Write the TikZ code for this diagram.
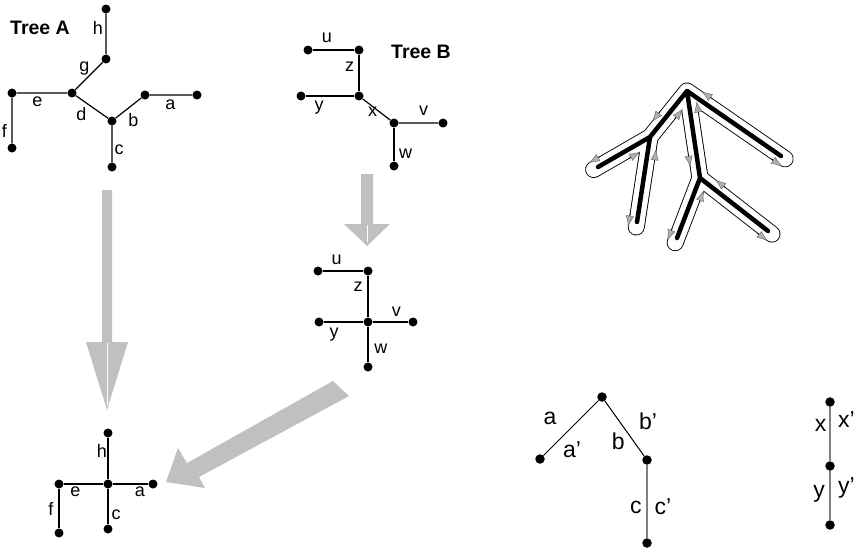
\documentclass[tikz,border=0pt]{standalone}
\usepackage{fontspec}
\setmainfont{Liberation Sans}
\usetikzlibrary{calc,arrows.meta}
\definecolor{arrgray}{RGB}{192,192,192}
\definecolor{tipgray}{RGB}{175,175,175}
\definecolor{edgegray}{RGB}{128,128,128}
\newcommand\lblfont{\fontsize{18}{20}\selectfont}
\newcommand\bigfont{\fontsize{23}{26}\selectfont}
\newcommand\ttlfont{\fontsize{19.5}{22}\selectfont\bfseries}
\newcommand\tourdn[3]{%
  \coordinate (ta) at ($(#1)!#3!(#2)$);
  \coordinate (tb) at ($(ta)!13pt!(#1)$);
  \draw[tourarr] ($(tb)!8pt!90:(#1)$) -- ($(ta)!8pt!90:(#1)$);}
\newcommand\tourup[3]{%
  \coordinate (ta) at ($(#1)!#3!(#2)$);
  \coordinate (tb) at ($(ta)!13pt!(#1)$);
  \draw[tourarr] ($(ta)!8pt!-90:(#1)$) -- ($(tb)!8pt!-90:(#1)$);}
\begin{document}
\begin{tikzpicture}[x=1pt,y=-1pt,
  dot/.style={circle,fill=black,inner sep=0pt,minimum size=9pt},
  bdot/.style={circle,fill=black,inner sep=0pt,minimum size=9.5pt},
  edge/.style={line width=1.2pt,black},
  gedge/.style={line width=2pt,edgegray},
  lbl/.style={inner sep=0pt,outer sep=0pt,font=\lblfont},
  blbl/.style={inner sep=0pt,outer sep=0pt,font=\bigfont},
  ttl/.style={inner sep=0pt,outer sep=0pt,font=\ttlfont},
  tourarr/.style={draw=black,line width=0.6pt,
    -{Latex[length=11pt,width=8pt,fill=tipgray,color=tipgray!55!black,line width=0.4pt]}},
  bigarrow/.style={fill=arrgray}
]
\useasboundingbox (0,0) rectangle (860,552);

% ---------------- Tree A ----------------
\node[dot] (Ah) at (106,9) {};
\node[dot] (Ag) at (106,59) {};
\node[dot] (Ad) at (72,93) {};
\node[dot] (Ae) at (12,93) {};
\node[dot] (Af) at (12,148) {};
\node[dot] (Ab) at (112,121) {};
\node[dot] (Ac) at (112,167) {};
\node[dot] (Aa1) at (145,95) {};
\node[dot] (Aa2) at (197,95) {};
\draw[edge] (Ah) -- (Ag) -- (Ad) -- (Ae) -- (Af);
\draw[edge] (Ad) -- (Ab) -- (Ac);
\draw[edge] (Ab) -- (Aa1) -- (Aa2);
\node[ttl] (tA) at (40,28) {Tree A};
\node[lbl] (lAh) at (98,27.5) {h};
\node[lbl] (lAg) at (84.5,68.5) {g};
\node[lbl] (lAe) at (37.5,101.7) {e};
\node[lbl] (lAd) at (81.3,114) {d};
\node[lbl] (lAb) at (133.5,120) {b};
\node[lbl] (lAa) at (170.5,104.7) {a};
\node[lbl] (lAf) at (4.5,130.5) {f};
\node[lbl] (lAc) at (119,150) {c};

% ---------------- Tree B ----------------
\node[dot] (Bu) at (308,50) {};
\node[dot] (Bz) at (359,50) {};
\node[dot] (Bx) at (359,96) {};
\node[dot] (By) at (301,96) {};
\node[dot] (Bv1) at (394,123) {};
\node[dot] (Bv2) at (443,123) {};
\node[dot] (Bw) at (394,166) {};
\draw[edge] (Bu) -- (Bz) -- (Bx) -- (By);
\draw[edge] (Bx) -- (Bv1) -- (Bv2);
\draw[edge] (Bv1) -- (Bw);
\node[ttl] (tB) at (421,51.5) {Tree B};
\node[lbl] (lBu) at (327,37.5) {u};
\node[lbl] (lBz) at (349.7,66.7) {z};
\node[lbl] (lBy) at (319,107.5) {y};
\node[lbl] (lBx) at (372.5,112) {x};
\node[lbl] (lBv) at (423.5,111) {v};
\node[lbl] (lBw) at (405.7,153.5) {w};

% ---------------- big gray arrows ----------------
\fill[bigarrow] (102,190) -- (112,190) -- (112,342) -- (128,342) -- (107,410)
  -- (86,342) -- (102,342) -- cycle;
\draw[white,line width=0.8pt] (107,343) -- (107,405);
\fill[bigarrow] (361,174) -- (373,174) -- (373,224) -- (390,224) -- (367,246)
  -- (344,224) -- (361,224) -- cycle;
\draw[white,line width=0.8pt] (367,225) -- (367,242);
\fill[bigarrow] (333,381) -- (349,396) -- (199,477) -- (205,488) -- (166,482)
  -- (178,448) -- (187,463) -- cycle;

% ---------------- contracted Tree B ----------------
\node[dot] (Cu) at (318,271) {};
\node[dot] (Cz) at (368,271) {};
\node[dot] (Cc) at (368,322) {};
\node[dot] (Cy) at (319,322) {};
\node[dot] (Cv) at (413,322) {};
\node[dot] (Cw) at (368,367) {};
\draw[edge] (Cu) -- (Cz) -- (Cc) -- (Cw);
\draw[edge] (Cy) -- (Cc) -- (Cv);
\node[lbl] (lCu) at (336.7,260) {u};
\node[lbl] (lCz) at (358,286.7) {z};
\node[lbl] (lCv) at (396.3,311.7) {v};
\node[lbl] (lCy) at (334,335) {y};
\node[lbl] (lCw) at (380.8,349) {w};

% ---------------- contracted Tree A ----------------
\node[dot] (Dh) at (108,433) {};
\node[dot] (Dc0) at (108,484) {};
\node[dot] (De) at (59,484) {};
\node[dot] (Df) at (59,533) {};
\node[dot] (Da) at (153,484) {};
\node[dot] (Dc) at (108,529) {};
\draw[edge] (Dh) -- (Dc0) -- (Dc);
\draw[edge] (Df) -- (De) -- (Dc0) -- (Da);
\node[lbl] (lDh) at (101.8,451.3) {h};
\node[lbl] (lDe) at (75.3,491.3) {e};
\node[lbl] (lDa) at (140,491.3) {a};
\node[lbl] (lDf) at (50.8,508.8) {f};
\node[lbl] (lDc) at (116,514.3) {c};

% ---------------- Euler tour ----------------
\coordinate (eR) at (687,91);
\coordinate (eL) at (650,137);
\coordinate (eLL) at (598,167);
\coordinate (eLR) at (637,222);
\coordinate (eM) at (700,178);
\coordinate (eML) at (677,238);
\coordinate (eMR) at (768,231);
\coordinate (eRR) at (781,156);
% outline ends, a little beyond each leaf
\coordinate (oLL) at ($(eLL)!-5pt!(eL)$);
\coordinate (oLR) at ($(eLR)!-5pt!(eL)$);
\coordinate (oML) at ($(eML)!-5pt!(eM)$);
\coordinate (oMR) at ($(eMR)!-5pt!(eM)$);
\coordinate (oRR) at ($(eRR)!-5pt!(eR)$);
\begin{scope}[line cap=round,line join=round]
\draw[line width=17pt,black] (oLL) -- (eL) -- (eR) -- (oRR) (eL) -- (oLR)
  (eR) -- (eM) -- (oML) (eM) -- (oMR);
\draw[line width=15.2pt,white] (oLL) -- (eL) -- (eR) -- (oRR) (eL) -- (oLR)
  (eR) -- (eM) -- (oML) (eM) -- (oMR);
\draw[line width=4.5pt,black] (eLL) -- (eL) -- (eR) -- (eRR) (eL) -- (eLR)
  (eR) -- (eM) -- (eML) (eM) -- (eMR);
\end{scope}
\tourdn{eR}{eL}{0.78}
\tourup{eR}{eL}{0.5}
\tourdn{eL}{eLL}{1.1}
\tourup{eL}{eLL}{0.48}
\tourdn{eL}{eLR}{1.07}
\tourup{eL}{eLR}{0.28}
\tourdn{eR}{eM}{0.86}
\tourup{eR}{eM}{0.28}
\tourdn{eM}{eML}{1.09}
\tourup{eM}{eML}{0.36}
\tourdn{eM}{eMR}{1.07}
\tourup{eM}{eMR}{0.3}
\tourdn{eR}{eRR}{1.06}
\tourup{eR}{eRR}{0.22}

% ---------------- bottom right ----------------
\node[bdot] (Etop) at (602,397) {};
\node[bdot] (Ea) at (540,459) {};
\node[bdot] (Eb) at (647,460) {};
\node[bdot] (Ec) at (647,543) {};
\draw[line width=1pt] (Etop) -- (Ea);
\draw[line width=1pt] (Etop) -- (Eb);
\draw[gedge] (Eb) -- (Ec);
\node[blbl] (lEa) at (550,418.3) {a};
\node[blbl] (lEa2) at (572,450) {a'};
\node[blbl] (lEb) at (618.3,441.7) {b};
\node[blbl] (lEb2) at (648,421.7) {b'};
\node[blbl] (lEc) at (635.8,507.5) {c};
\node[blbl] (lEc2) at (663,506.7) {c'};

\node[bdot] (Fx) at (830,402) {};
\node[bdot] (Fm) at (830,466) {};
\node[bdot] (Fy) at (830,525) {};
\draw[gedge] (Fx) -- (Fm) -- (Fy);
\node[blbl] (lFx) at (820.5,425) {x};
\node[blbl] (lFx2) at (846.5,420) {x'};
\node[blbl] (lFy) at (819,494) {y};
\node[blbl] (lFy2) at (846.5,488) {y'};
\end{tikzpicture}
\end{document}
